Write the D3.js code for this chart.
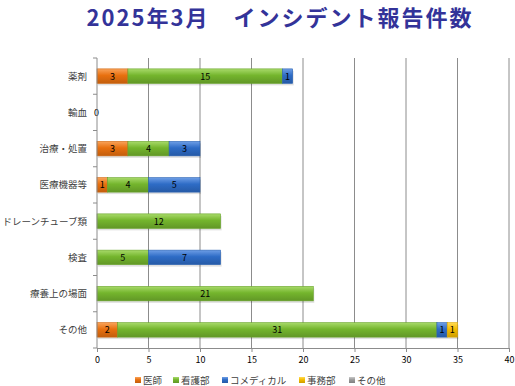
<!DOCTYPE html>
<html>
<head>
<meta charset="utf-8">
<script src="https://cdn.jsdelivr.net/npm/d3@7"></script>
<style>
  body { margin: 0; background: #fff; }
  text { font-family: "Noto Sans CJK JP", sans-serif; }
</style>
</head>
<body>
<div id="chart"></div>
<script>
var categories = ["薬剤", "輸血", "治療・処置", "医療機器等", "ドレーンチューブ類", "検査", "療養上の場面", "その他"]
var seriesNames = ["医師", "看護部", "コメディカル", "事務部", "その他"]
var doctor = [3, 0, 3, 1, 0, 0, 0, 2]
var nursing = [15, 0, 4, 4, 12, 5, 21, 31]
var comedical = [1, 0, 3, 5, 0, 7, 0, 1]
var office = [0, 0, 0, 0, 0, 0, 0, 1]
var others = [0, 0, 0, 0, 0, 0, 0, 0]
var xTicks = [0, 5, 10, 15, 20, 25, 30, 35, 40]

var colors = ["#E8700F", "#74B52D", "#2E6CC6", "#F5BC00", "#9A9A9A"]
var lights = ["#F9A35A", "#A8DA6A", "#6E9EE6", "#FFDA55", "#C8C8C8"]

var width = 515,
    height = 386,
    margin = {top: 58, right: 6, bottom: 38, left: 97}

var svg = d3.select("#chart")
  .append("svg")
    .attr("width", width)
    .attr("height", height)

var defs = svg.append("defs")
colors.forEach(function(c, i) {
  var g = defs.append("linearGradient")
    .attr("id", "grad" + i)
    .attr("x1", 0).attr("y1", 0).attr("x2", 0).attr("y2", 1)
  g.append("stop").attr("offset", "0%").attr("stop-color", lights[i])
  g.append("stop").attr("offset", "45%").attr("stop-color", c)
  g.append("stop").attr("offset", "100%").attr("stop-color", d3.color(c).darker(0.5))
})

svg.append("text")
  .attr("x", 280)
  .attr("y", 26)
  .attr("text-anchor", "middle")
  .attr("fill", "#333399")
  .style("font-size", "22px")
  .style("font-weight", "bold")
  .style("letter-spacing", "2px")
  .text("2025年3月　インシデント報告件数")

var x = d3.scaleLinear()
  .domain([0, 40])
  .range([margin.left, width - margin.right])

var y = d3.scaleBand()
  .domain(categories)
  .range([margin.top, height - margin.bottom])
  .paddingInner(0.6)
  .paddingOuter(0.3)

// gridlines
svg.append("g")
  .selectAll("line")
  .data(xTicks.slice(1))
  .enter()
  .append("line")
    .attr("x1", function(d) { return x(d) })
    .attr("x2", function(d) { return x(d) })
    .attr("y1", margin.top)
    .attr("y2", height - margin.bottom)
    .attr("stroke", "#8c8c8c")
    .attr("stroke-width", 1)

var stackData = categories.map(function(c, i) {
  return {cat: c, 医師: doctor[i], 看護部: nursing[i], コメディカル: comedical[i], 事務部: office[i], その他: others[i]}
})
var stacked = d3.stack().keys(seriesNames)(stackData)

var layers = svg.append("g")
  .selectAll("g")
  .data(stacked)
  .enter()
  .append("g")

// shadow
layers.selectAll("rect.shadow")
  .data(function(d) { return d.filter(function(p) { return p[1] - p[0] > 0 }) })
  .enter()
  .append("rect")
    .attr("class", "shadow")
    .attr("x", function(d) { return x(d[0]) + 1 })
    .attr("y", function(d) { return y(d.data.cat) + 2 })
    .attr("width", function(d) { return x(d[1]) - x(d[0]) })
    .attr("height", y.bandwidth())
    .attr("fill", "#000")
    .attr("opacity", 0.12)

layers.each(function(layer, i) {
  var g = d3.select(this)
  var segs = layer.filter(function(p) { return p[1] - p[0] > 0 })
  g.selectAll("rect.bar")
    .data(segs)
    .enter()
    .append("rect")
      .attr("class", "bar")
      .attr("x", function(d) { return x(d[0]) })
      .attr("y", function(d) { return y(d.data.cat) })
      .attr("width", function(d) { return x(d[1]) - x(d[0]) })
      .attr("height", y.bandwidth())
      .attr("fill", "url(#grad" + i + ")")
      .attr("stroke", d3.color(colors[i]).darker(0.3))
      .attr("stroke-width", 0.6)
  g.selectAll("text")
    .data(segs)
    .enter()
    .append("text")
      .attr("x", function(d) { return (x(d[0]) + x(d[1])) / 2 })
      .attr("y", function(d) { return y(d.data.cat) + y.bandwidth() / 2 + 3.5 })
      .attr("text-anchor", "middle")
      .attr("fill", "#000")
      .style("font-size", "9px")
      .text(function(d) { return d[1] - d[0] })
})

// zero label for empty categories
svg.append("g")
  .selectAll("text")
  .data(stackData.filter(function(d) { return d3.sum(seriesNames, function(k) { return d[k] }) === 0 }))
  .enter()
  .append("text")
    .attr("x", x(0) - 3)
    .attr("y", function(d) { return y(d.cat) + y.bandwidth() / 2 + 3.5 })
    .attr("fill", "#000")
    .style("font-size", "9px")
    .text("0")

// x axis
var xAxis = svg.append("g")
  .attr("transform", "translate(0," + (height - margin.bottom) + ")")
  .call(d3.axisBottom(x).tickValues(xTicks).tickSize(4).tickSizeOuter(0))
xAxis.select(".domain").attr("stroke", "#8c8c8c")
xAxis.selectAll(".tick line").attr("stroke", "#8c8c8c")
xAxis.selectAll("text").attr("fill", "#000").style("font-size", "9px").attr("dy", "0.9em")

// y axis
svg.append("line")
  .attr("x1", x(0)).attr("x2", x(0))
  .attr("y1", margin.top).attr("y2", height - margin.bottom)
  .attr("stroke", "#8c8c8c")
var yStep = (height - margin.bottom - margin.top) / categories.length
svg.append("g")
  .selectAll("line")
  .data(d3.range(categories.length + 1))
  .enter()
  .append("line")
    .attr("x1", x(0) - 4).attr("x2", x(0))
    .attr("y1", function(d) { return margin.top + d * yStep })
    .attr("y2", function(d) { return margin.top + d * yStep })
    .attr("stroke", "#8c8c8c")

svg.append("g")
  .selectAll("text")
  .data(categories)
  .enter()
  .append("text")
    .attr("x", x(0) - 10)
    .attr("y", function(d) { return y(d) + y.bandwidth() / 2 + 3.5 })
    .attr("text-anchor", "end")
    .attr("fill", "#404040")
    .style("font-size", "9.5px")
    .text(function(d) { return d })

// legend
var legend = svg.append("g")
var lx = [135, 173, 222, 299, 349]
seriesNames.forEach(function(s, i) {
  legend.append("rect")
    .attr("x", lx[i]).attr("y", 377)
    .attr("width", 6).attr("height", 6)
    .attr("fill", "url(#grad" + i + ")")
  legend.append("text")
    .attr("x", lx[i] + 8).attr("y", 384)
    .attr("fill", "#404040")
    .style("font-size", "9.5px")
    .text(s)
})
</script>
</body>
</html>
